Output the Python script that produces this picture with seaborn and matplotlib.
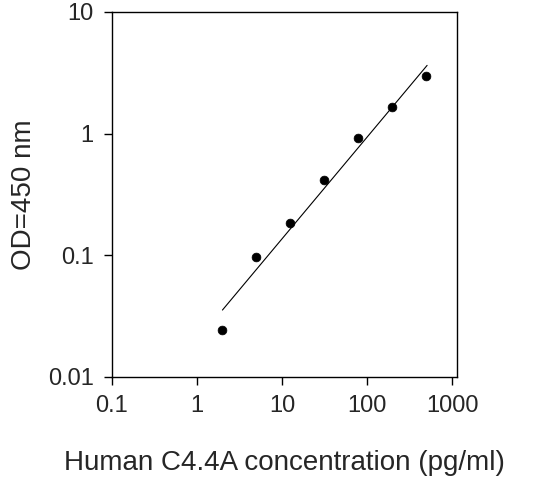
import matplotlib
matplotlib.use("Agg")
import matplotlib.pyplot as plt
import seaborn as sns
import pandas as pd

conc = [2.0, 5.0, 12.5, 31.25, 78.0, 195.0, 488.0]
od = [0.0245, 0.097, 0.183, 0.413, 0.925, 1.65, 2.99]
fit_x = [2.0, 508.0]
fit_y = [0.0355, 3.64]
xticks = [0.1, 1, 10, 100, 1000]
xlabels = ["0.1", "1", "10", "100", "1000"]
yticks = [0.01, 0.1, 1, 10]
ylabels = ["0.01", "0.1", "1", "10"]

sns.set_style("white")
plt.rcParams['font.family'] = ['Liberation Sans', 'DejaVu Sans']
fig = plt.figure(figsize=(5.41, 4.95), dpi=100)
ax = fig.add_axes([0.2065, 0.2384, 0.6385, 0.7374])
df = pd.DataFrame({"x": conc, "y": od})
sns.scatterplot(data=df, x="x", y="y", ax=ax, color="black", s=40, edgecolor="black", zorder=3)
sns.lineplot(x=fit_x, y=fit_y, ax=ax, color="black", lw=0.8)
ax.set_xscale("log"); ax.set_yscale("log")
ax.set_xlim(0.1, 1000 * 10 ** (5 / 85))
ax.set_ylim(0.01, 10)
ax.set_xticks(xticks, xlabels, fontsize=17)
ax.set_yticks(yticks, ylabels, fontsize=17)
ax.minorticks_off()
ax.tick_params(direction="out", length=6, width=1, color="black", bottom=True, left=True, pad=7)
for s in ax.spines.values():
    s.set_color("black"); s.set_linewidth(1)
ax.set_xlabel("Human C4.4A concentration (pg/ml)", fontsize=20, labelpad=24)
ax.set_ylabel("OD=450 nm", fontsize=20, labelpad=8)
fig.savefig("out.png", dpi=100)
